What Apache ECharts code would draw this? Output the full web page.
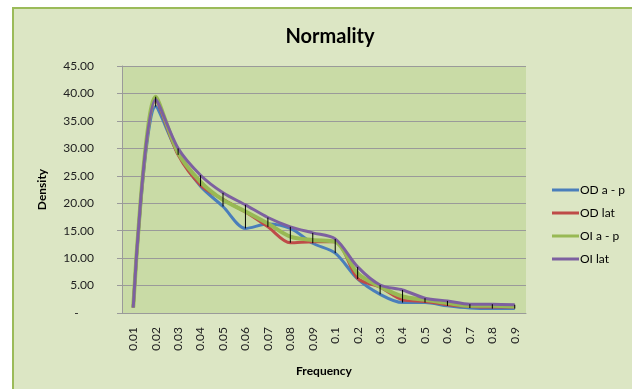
<!DOCTYPE html>
<html>
<head>
<meta charset="utf-8">
<script src="https://cdn.jsdelivr.net/npm/echarts@6/dist/echarts.min.js"></script>
<style>
  html, body { margin: 0; padding: 0; background: #ffffff; }
  #chart { width: 632px; height: 389px; }
</style>
</head>
<body>
<div id="chart"></div>
<script>
// Frequency categories along the x axis
var frequencies = ['0.01','0.02','0.03','0.04','0.05','0.06','0.07','0.08','0.09',
                   '0.1','0.2','0.3','0.4','0.5','0.6','0.7','0.8','0.9'];

// Density per frequency for each measurement
var odAP  = [1.0, 37.6, 29.0, 23.1, 19.4, 15.4, 16.2, 15.4, 12.7, 10.9, 6.2, 3.4, 1.9, 1.9, 1.3, 0.9, 0.8, 0.8];
var odLat = [1.0, 38.8, 28.8, 23.3, 20.7, 18.4, 15.7, 12.8, 13.0, 13.0, 6.3, 4.7, 2.4, 2.1, 1.5, 1.2, 1.1, 1.1];
var oiAP  = [1.0, 39.4, 29.2, 23.9, 20.6, 18.5, 16.3, 13.9, 13.3, 13.0, 7.2, 4.8, 3.0, 2.4, 1.8, 1.3, 1.3, 1.2];
var oiLat = [1.0, 38.9, 30.0, 25.1, 21.9, 19.7, 17.4, 15.7, 14.6, 13.5, 8.4, 5.1, 4.2, 2.7, 2.2, 1.6, 1.6, 1.5];

var seriesNames = ['OD a - p', 'OD lat', 'OI a - p', 'OI lat'];
var seriesData = [odAP, odLat, oiAP, oiLat];
var seriesColors = ['#4A7EBB', '#BE4B48', '#98B954', '#7D60A0'];
var seriesWidths = [3, 3, 4, 3];

// Y axis tick values
var yTicks = [0, 5, 10, 15, 20, 25, 30, 35, 40, 45];

var FONT = 'Lato, "Open Sans", sans-serif';

// High-low range per category (min and max over the four series)
var highLow = frequencies.map(function (f, i) {
  var vals = seriesData.map(function (s) { return s[i]; });
  return [i, Math.min.apply(null, vals), Math.max.apply(null, vals)];
});

var chart = echarts.init(document.getElementById('chart'), null, { renderer: 'canvas' });

var lineSeries = seriesData.map(function (data, k) {
  return {
    name: seriesNames[k],
    type: 'line',
    data: data,
    smooth: 0.3,
    symbol: 'none',
    lineStyle: { color: seriesColors[k], width: seriesWidths[k] },
    itemStyle: { color: seriesColors[k] },
    z: 3 + k
  };
});

var option = {
  backgroundColor: '#ffffff',
  animation: false,
  graphic: [{
    type: 'rect',
    shape: { x: 13, y: 8, width: 640, height: 400 },
    style: { fill: '#DCE6C4', stroke: '#9BBB59', lineWidth: 2 },
    z: -10
  }],
  title: {
    text: 'Normality',
    left: 325,
    top: 22,
    textAlign: 'center',
    textStyle: { fontFamily: FONT, fontSize: 20, fontWeight: 'bold', color: '#000' }
  },
  legend: {
    data: seriesNames,
    orient: 'vertical',
    left: 547,
    top: 179,
    itemWidth: 27,
    itemHeight: 3,
    itemGap: 11,
    icon: 'rect',
    textStyle: { fontFamily: FONT, fontSize: 12, color: '#000', padding: [0, 0, 0, -4] }
  },
  grid: {
    left: 122, right: 106, top: 66, bottom: 76,
    show: true,
    backgroundColor: '#C9DBA6',
    borderWidth: 0
  },
  xAxis: {
    type: 'category',
    data: frequencies,
    boundaryGap: true,
    name: 'Frequency',
    nameLocation: 'middle',
    nameGap: 52,
    nameTextStyle: { fontFamily: FONT, fontSize: 12, fontWeight: 'bold', color: '#000' },
    axisLine: { lineStyle: { color: '#9A9A9A', width: 1 } },
    axisTick: { show: false },
    axisLabel: {
      rotate: 90,
      margin: 14,
      fontFamily: FONT,
      fontSize: 12,
      color: '#222'
    }
  },
  yAxis: {
    type: 'value',
    min: yTicks[0],
    max: yTicks[yTicks.length - 1],
    interval: 5,
    name: 'Density',
    nameLocation: 'middle',
    nameGap: 74,
    nameRotate: 90,
    nameTextStyle: { fontFamily: FONT, fontSize: 12, fontWeight: 'bold', color: '#000' },
    axisLine: { show: true, lineStyle: { color: '#9A9A9A', width: 1 } },
    axisTick: { show: true, length: 5, lineStyle: { color: '#9A9A9A' } },
    splitLine: { lineStyle: { color: '#9A9A9A', width: 1 } },
    axisLabel: {
      margin: 28,
      fontFamily: FONT,
      fontSize: 12,
      color: '#222',
      formatter: function (v) { return v === 0 ? '-     ' : v.toFixed(2); }
    }
  },
  series: lineSeries.concat([{
    name: 'high-low',
    type: 'custom',
    data: highLow,
    z: 10,
    silent: true,
    renderItem: function (params, api) {
      var top = api.coord([api.value(0), api.value(2)]);
      var bottom = api.coord([api.value(0), api.value(1)]);
      return {
        type: 'line',
        shape: { x1: top[0], y1: top[1], x2: bottom[0], y2: bottom[1] },
        style: { stroke: '#000', lineWidth: 1 }
      };
    }
  }])
};

chart.setOption(option);
</script>
</body>
</html>
